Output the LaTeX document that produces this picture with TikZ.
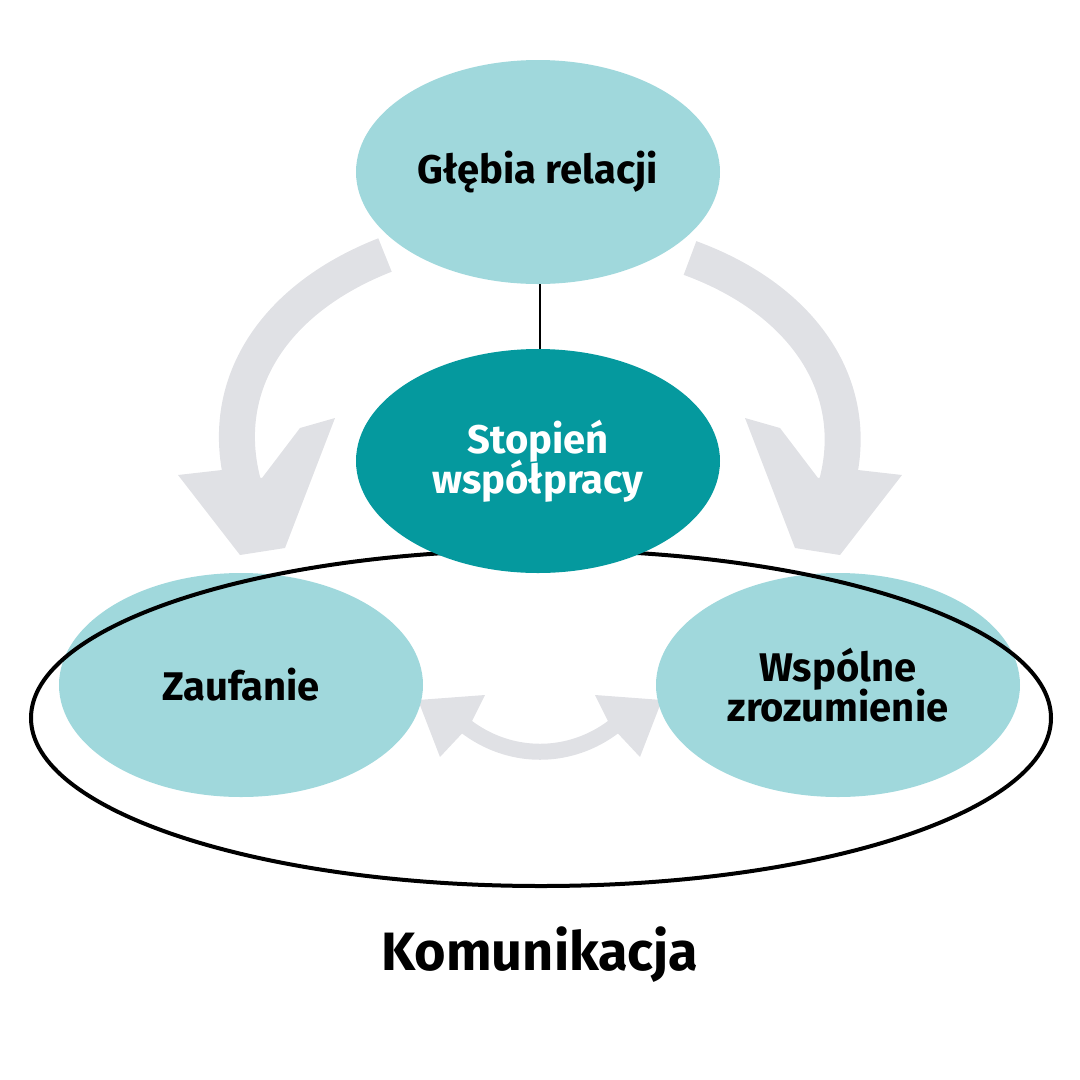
\documentclass[tikz,border=0pt]{standalone}
\usepackage{fontspec}
\usetikzlibrary{shapes.geometric}
\setmainfont{Fira Sans}
\begin{document}
\begin{tikzpicture}[x=1pt,y=-1pt,
  light/.style={fill=lt,draw=none},
  dark/.style={fill=dk,draw=none},
  arr/.style={fill=gr,draw=none},
  lbl/.style={font=\fontsize{40}{44}\selectfont\bfseries,align=center,text=black}]
\definecolor{lt}{HTML}{A0D8DC}
\definecolor{dk}{HTML}{05999E}
\definecolor{gr}{HTML}{E0E1E5}
\useasboundingbox (0,0) rectangle (1080,1080);
% grey arrows
\draw[gr,line width=36pt] (385,255) .. controls (270,300) and (215,390) .. (245,490);
\fill[arr] (178,475) -- (240,555) -- (285,548) -- (335,418) -- (300,428) -- (262,478) -- (222,470) -- cycle;
\draw[gr,line width=36pt] (690,258) .. controls (805,300) and (865,390) .. (835,490);
\fill[arr] (902,475) -- (840,555) -- (795,548) -- (745,418) -- (780,428) -- (818,478) -- (858,470) -- cycle;
\draw[gr,line width=16pt] (450,712) .. controls (500,765) and (580,765) .. (630,712);
\fill[arr] (418,700) -- (440,757) -- (470,725) -- (485,695) -- cycle;
\fill[arr] (662,700) -- (640,757) -- (610,725) -- (595,695) -- cycle;
% ellipses
\node[light,ellipse,minimum width=364pt,minimum height=224pt] (top) at (538,172) {};
\node[light,ellipse,minimum width=364pt,minimum height=224pt] (left) at (241,685) {};
\node[light,ellipse,minimum width=364pt,minimum height=224pt] (right) at (838,685) {};
\draw[line width=4pt] (541,718) ellipse [x radius=510, y radius=168];
\node[dark,ellipse,minimum width=364pt,minimum height=224pt] (mid) at (538,461) {};
\draw[line width=2.5pt] (top.south) ++(2,0) coordinate (a) -- (a |- mid.north);
% labels
\node[lbl] at (top) {Głębia relacji};
\node[lbl,text=white] at (mid) {Stopień\\[-4pt]współpracy};
\node[lbl] at (left) {Zaufanie};
\node[lbl] at (right) {Wspólne\\[-4pt]zrozumienie};
\node[font=\fontsize{54}{60}\selectfont\bfseries] (kom) at (540,955) {Komunikacja};
\end{tikzpicture}
\end{document}
